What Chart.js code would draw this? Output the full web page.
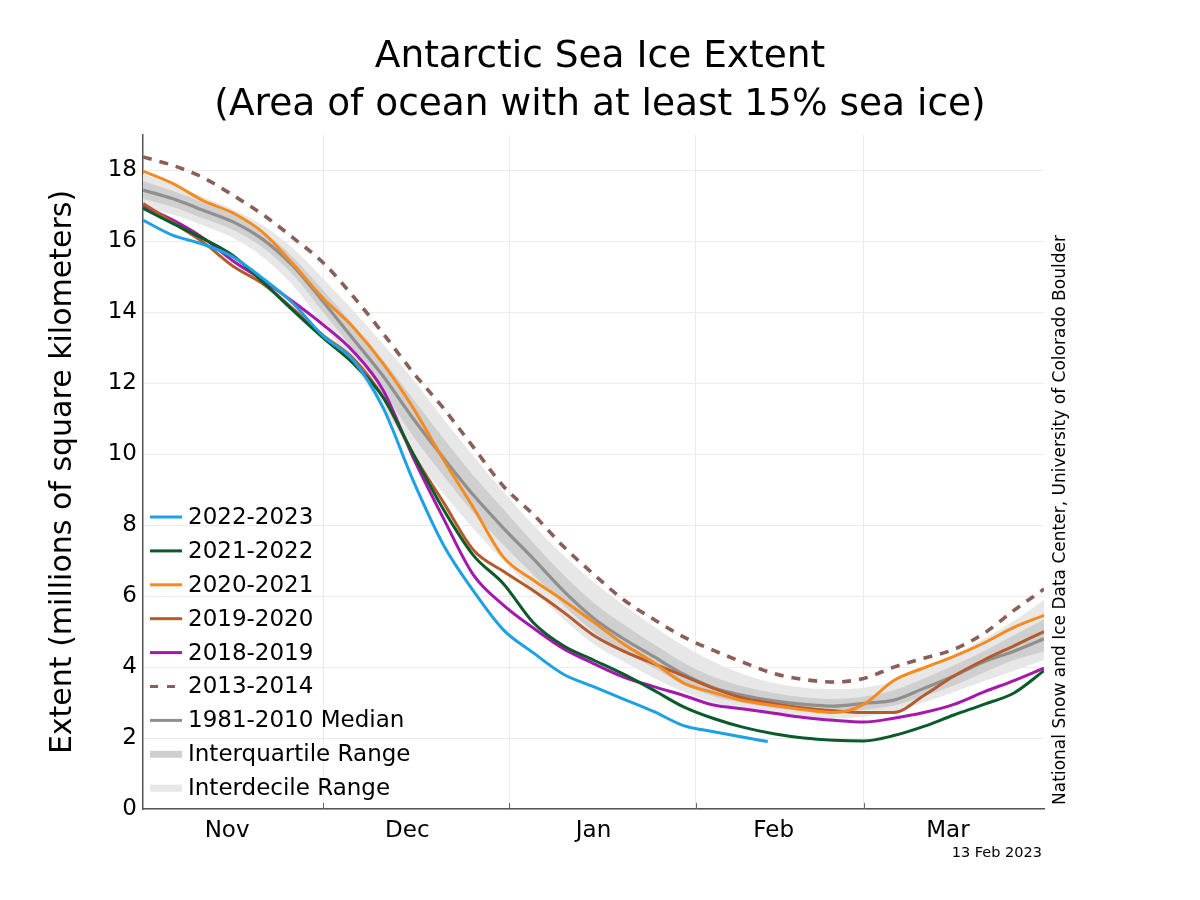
<!DOCTYPE html>
<html>
<head>
<meta charset="utf-8">
<script src="https://cdn.jsdelivr.net/npm/chart.js@4/dist/chart.umd.min.js"></script>
<style>
html,body{margin:0;padding:0;background:#fff;}
#wrap{width:1200px;height:900px;position:relative;}
</style>
</head>
<body>
<div id="wrap"><canvas id="c" width="1200" height="900"></canvas></div>
<script>
// ---- data (days since 1 Nov, values in millions of km²) ----
const days = [0,5,10,15,20,25,30,35,40,45,50,55,60,65,70,75,80,85,90,95,100,105,110,115,120,125,130,135,140,145,150];
const days2223 = [0,5,10,15,20,25,30,35,40,45,50,55,60,65,70,75,80,85,90,95,100,104];

const y2223 = [16.6,16.17,15.92,15.56,14.95,14.25,13.33,12.65,11.3,9.25,7.45,6.15,5.05,4.4,3.8,3.45,3.1,2.75,2.35,2.18,2.02,1.9];
const y2122 = [16.93,16.5,16.08,15.6,14.85,14.05,13.28,12.56,11.6,10.0,8.45,7.15,6.35,5.25,4.6,4.2,3.8,3.35,2.88,2.55,2.3,2.12,2.0,1.94,1.92,2.07,2.33,2.65,2.95,3.27,3.9];
const y2021 = [17.98,17.63,17.15,16.8,16.25,15.36,14.4,13.58,12.55,11.3,9.85,8.5,7.1,6.45,5.88,5.27,4.65,4.13,3.55,3.28,3.05,2.92,2.8,2.72,2.95,3.62,3.98,4.3,4.68,5.12,5.46];
const y1920 = [17.07,16.53,15.98,15.3,14.8,14.1,13.35,12.7,11.6,10.0,8.65,7.3,6.7,6.15,5.55,4.9,4.45,4.1,3.75,3.4,3.12,2.97,2.85,2.77,2.72,2.72,3.2,3.75,4.2,4.6,5.0];
const y1819 = [17.0,16.6,16.1,15.45,14.9,14.3,13.65,12.9,11.8,9.9,8.2,6.6,5.75,5.1,4.52,4.1,3.72,3.45,3.2,2.93,2.82,2.7,2.58,2.5,2.45,2.56,2.72,2.95,3.3,3.62,3.97];
const y1314 = [18.38,18.14,17.8,17.3,16.75,16.1,15.4,14.45,13.4,12.3,11.3,10.2,9.1,8.3,7.4,6.62,5.9,5.35,4.85,4.47,4.13,3.82,3.65,3.58,3.68,4.0,4.25,4.5,4.95,5.6,6.2];
const median = [17.45,17.2,16.88,16.55,16.05,15.3,14.3,13.25,12.2,11.0,9.9,8.85,7.92,7.05,6.15,5.38,4.8,4.3,3.8,3.42,3.2,3.05,2.95,2.9,2.98,3.07,3.4,3.75,4.15,4.45,4.8];
const p75 = [17.7,17.42,17.1,16.75,16.27,15.55,14.62,13.65,12.65,11.55,10.45,9.4,8.45,7.5,6.6,5.82,5.2,4.65,4.12,3.72,3.45,3.27,3.15,3.1,3.17,3.35,3.68,4.05,4.45,4.9,5.35];
const p25 = [17.2,16.97,16.65,16.32,15.82,15.05,14.0,12.95,11.8,10.5,9.4,8.35,7.45,6.6,5.75,5.0,4.45,3.98,3.5,3.18,2.98,2.85,2.76,2.72,2.8,2.92,3.18,3.48,3.85,4.2,4.45];
const p90 = [17.9,17.6,17.25,16.9,16.45,15.8,14.95,14.05,13.1,12.1,11.0,9.95,8.95,8.0,7.15,6.4,5.75,5.15,4.6,4.15,3.8,3.55,3.42,3.38,3.42,3.6,3.95,4.35,4.8,5.3,5.9];
const p10 = [16.95,16.75,16.45,16.1,15.55,14.75,13.65,12.5,11.3,10.0,8.9,7.9,7.0,6.15,5.35,4.65,4.15,3.7,3.3,3.0,2.8,2.65,2.57,2.55,2.6,2.75,3.0,3.3,3.6,3.9,4.2];

const monthStarts = [30,61,92,120];
const monthMids = [14,44,75,105,134];
const monthNames = ['Nov','Dec','Jan','Feb','Mar'];
const yTicks = [0,2,4,6,8,10,12,14,16,18];

const titleLines = ['Antarctic Sea Ice Extent','(Area of ocean with at least 15% sea ice)'];
const yTitle = 'Extent (millions of square kilometers)';
const creditText = 'National Snow and Ice Data Center, University of Colorado Boulder';
const dateText = '13 Feb 2023';

// ---- styles ----
const FONT = "'DejaVu Sans', sans-serif";
const C = {
  y2223:'#1ea0e4', y2122:'#0b5a2a', y2021:'#f58b1f', y1920:'#b45a2c', y1819:'#a418ae',
  y1314:'#8a5f59', median:'#8f8f8f', iq:'#cfcfcf', id:'#e7e7e7'
};

const pts = (xs, ys) => xs.map((x, i) => ({x: x, y: ys[i]}));
const line = (label, xs, ys, color, order, extra) => Object.assign({
  label, data: pts(xs, ys), borderColor: color, backgroundColor: color,
  borderWidth: 3, pointRadius: 0, fill: false, cubicInterpolationMode: 'monotone', order
}, extra || {});

const datasets = [
  {label:'p90', data: pts(days, p90), borderWidth:0, borderColor:'rgba(0,0,0,0)', backgroundColor:C.id, pointRadius:0, fill:1, cubicInterpolationMode:'monotone', order:11},
  {label:'p10', data: pts(days, p10), borderWidth:0, borderColor:'rgba(0,0,0,0)', pointRadius:0, fill:false, cubicInterpolationMode:'monotone', order:12},
  {label:'p75', data: pts(days, p75), borderWidth:0, borderColor:'rgba(0,0,0,0)', backgroundColor:C.iq, pointRadius:0, fill:3, cubicInterpolationMode:'monotone', order:9},
  {label:'p25', data: pts(days, p25), borderWidth:0, borderColor:'rgba(0,0,0,0)', pointRadius:0, fill:false, cubicInterpolationMode:'monotone', order:10},
  line('1981-2010 Median', days, median, C.median, 8, {borderWidth:3.2}),
  line('2013-2014', days, y1314, C.y1314, 7, {borderDash:[9,8], borderWidth:3.6}),
  line('2018-2019', days, y1819, C.y1819, 6),
  line('2019-2020', days, y1920, C.y1920, 5),
  line('2020-2021', days, y2021, C.y2021, 4),
  line('2021-2022', days, y2122, C.y2122, 3),
  line('2022-2023', days2223, y2223, C.y2223, 2)
];

const legendItems = [
  {text:'2022-2023', color:C.y2223, width:3},
  {text:'2021-2022', color:C.y2122, width:3},
  {text:'2020-2021', color:C.y2021, width:3},
  {text:'2019-2020', color:C.y1920, width:3},
  {text:'2018-2019', color:C.y1819, width:3},
  {text:'2013-2014', color:C.y1314, width:3.2, dash:[8,9]},
  {text:'1981-2010 Median', color:C.median, width:3},
  {text:'Interquartile Range', color:C.iq, width:7},
  {text:'Interdecile Range', color:C.id, width:7}
];

const extras = {
  id: 'extras',
  afterDraw(chart) {
    const ctx = chart.ctx;
    const xs = chart.scales.x;
    const area = chart.chartArea;
    ctx.save();
    // inward tick marks at month starts
    ctx.strokeStyle = '#666'; ctx.lineWidth = 1;
    monthStarts.forEach(v => {
      const px = Math.round(xs.getPixelForValue(v)) + 0.5;
      ctx.beginPath(); ctx.moveTo(px, area.bottom); ctx.lineTo(px, area.bottom - 6); ctx.stroke();
    });
    // legend
    const lx0 = area.left + 7, lx1 = area.left + 39, tx = area.left + 45;
    const rowH = 33.9, y0 = 517;
    ctx.font = '23px ' + FONT; ctx.textBaseline = 'middle'; ctx.textAlign = 'left';
    legendItems.forEach((it, i) => {
      const yy = y0 + i * rowH;
      ctx.strokeStyle = it.color; ctx.lineWidth = it.width; ctx.setLineDash(it.dash || []);
      ctx.lineCap = 'butt';
      ctx.beginPath(); ctx.moveTo(lx0, yy); ctx.lineTo(lx1, yy); ctx.stroke();
      ctx.setLineDash([]);
      ctx.fillStyle = '#000';
      ctx.fillText(it.text, tx, yy + 1);
    });
    // credit text (rotated)
    ctx.save();
    ctx.translate(1061, 520);
    ctx.rotate(-Math.PI / 2);
    ctx.font = '100px ' + FONT;
    const w100 = ctx.measureText(creditText).width;
    const fs = 100 * 570 / w100;
    ctx.font = fs.toFixed(2) + 'px ' + FONT;
    ctx.fillStyle = '#000'; ctx.textAlign = 'center'; ctx.textBaseline = 'middle';
    ctx.fillText(creditText, 0, 0);
    ctx.restore();
    // date
    ctx.font = '14.5px ' + FONT; ctx.fillStyle = '#000';
    ctx.textAlign = 'right'; ctx.textBaseline = 'middle';
    ctx.fillText(dateText, 1042, 853);
    ctx.restore();
  }
};

Chart.defaults.font.family = FONT;
Chart.defaults.color = '#000';

new Chart(document.getElementById('c'), {
  type: 'line',
  data: { datasets },
  options: {
    responsive: false,
    devicePixelRatio: 1,
    animation: false,
    layout: { padding: { left: 0, right: 0, top: 0, bottom: 0 } },
    plugins: {
      legend: { display: false },
      tooltip: { enabled: false },
      title: {
        display: true, text: titleLines, color: '#000',
        font: { family: FONT, size: 37.5, weight: 'normal', lineHeight: 48 / 37.5 },
        padding: { top: 33, bottom: 6 }
      },
      filler: { propagate: false }
    },
    scales: {
      x: {
        type: 'linear', min: 0, max: 150,
        afterBuildTicks: s => {
          s.ticks = monthStarts.concat(monthMids).sort((a, b) => a - b).map(v => ({value: v}));
        },
        ticks: {
          autoSkip: false, maxRotation: 0, minRotation: 0, padding: 8, color: '#000',
          font: { family: FONT, size: 23 },
          callback: v => { const i = monthMids.indexOf(v); return i >= 0 ? monthNames[i] : ''; }
        },
        grid: {
          drawTicks: false, lineWidth: 1,
          color: ctx => (ctx.tick && monthStarts.includes(ctx.tick.value)) ? '#ebebeb' : 'rgba(0,0,0,0)'
        },
        border: { display: true, color: '#555', width: 1.5 },
        afterFit: s => { s.height = 91; }
      },
      y: {
        min: 0, max: 19,
        afterBuildTicks: s => { s.ticks = yTicks.map(v => ({value: v})); },
        ticks: { padding: 6, color: '#000', font: { family: FONT, size: 23 } },
        grid: { drawTicks: false, color: '#ebebeb', lineWidth: 1 },
        border: { display: true, color: '#555', width: 1.5 },
        title: {
          display: true, text: yTitle, color: '#000',
          font: { family: FONT, size: 30 }, padding: { top: 45, bottom: 0 }
        },
        afterFit: s => { s.width = 143; }
      },
      yr: {
        position: 'right', min: 0, max: 19, display: true,
        ticks: { display: false },
        grid: { display: false, drawTicks: false },
        border: { display: false },
        afterFit: s => { s.width = 156; }
      }
    }
  },
  plugins: [extras]
});
</script>
</body>
</html>
